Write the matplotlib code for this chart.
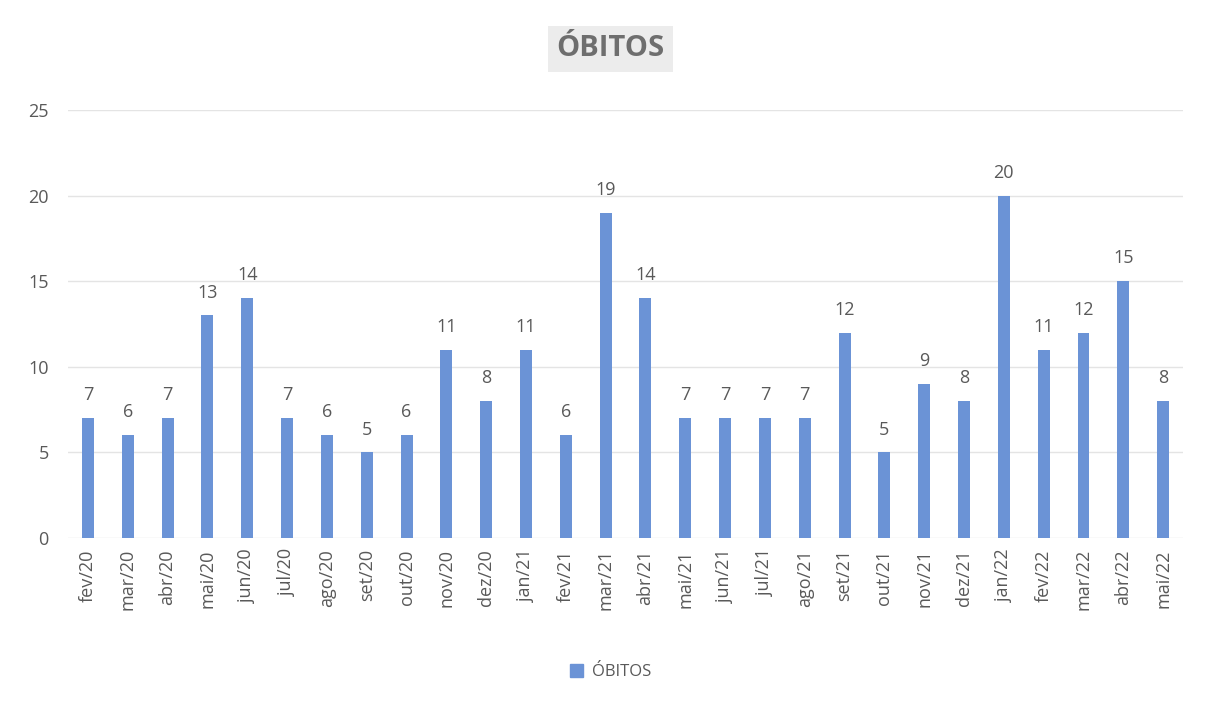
import matplotlib.pyplot as plt
from matplotlib.patches import Patch

months = ["fev/20", "mar/20", "abr/20", "mai/20", "jun/20", "jul/20", "ago/20",
          "set/20", "out/20", "nov/20", "dez/20", "jan/21", "fev/21", "mar/21",
          "abr/21", "mai/21", "jun/21", "jul/21", "ago/21", "set/21", "out/21",
          "nov/21", "dez/21", "jan/22", "fev/22", "mar/22", "abr/22", "mai/22"]
obitos = [7, 6, 7, 13, 14, 7, 6, 5, 6, 11, 8, 11, 6, 19, 14, 7, 7, 7, 7, 12,
          5, 9, 8, 20, 11, 12, 15, 8]
yticks = [0, 5, 10, 15, 20, 25]

BAR = "#6b93d6"
TXT = "#595959"
FONT = ["Open Sans", "DejaVu Sans"]

plt.rcParams['font.family'] = FONT

fig = plt.figure(figsize=(12.11, 7.07), dpi=100)
ax = fig.add_axes([0.0562, 0.239, 0.9207, 0.6054])

x = range(len(months))
ax.bar(x, obitos, width=0.3, color=BAR, zorder=3)
for xi, v in zip(x, obitos):
    ax.annotate(str(v), (xi, v), xytext=(0, 10), textcoords='offset points',
                ha='center', va='bottom', fontsize=13, color=TXT)

ax.set_xlim(-0.5, len(months) - 0.5)
ax.set_ylim(0, 25)
ax.set_yticks(yticks)
ax.set_xticks(list(x))
ax.set_xticklabels(months, rotation=90, fontsize=13, color=TXT)
ax.tick_params(axis='y', labelsize=13, labelcolor=TXT, length=0, pad=14)
ax.tick_params(axis='x', length=0, pad=8)
ax.grid(axis='y', color='#e4e4e4', linewidth=1, zorder=0)
for s in ax.spines.values():
    s.set_visible(False)

fig.text(0.504, 0.931, "ÓBITOS", ha='center', va='center', fontsize=21,
         fontweight='bold', color='#6e6e6e',
         bbox=dict(boxstyle='square,pad=0.3', facecolor='#ececec', edgecolor='none'))

fig.legend(handles=[Patch(color=BAR, label="ÓBITOS")], loc='center',
           bbox_to_anchor=(0.504, 0.0495), frameon=False, fontsize=12,
           labelcolor=TXT, handlelength=0.8, handleheight=0.8, handletextpad=0.5)

fig.savefig("out.png", dpi=100)
